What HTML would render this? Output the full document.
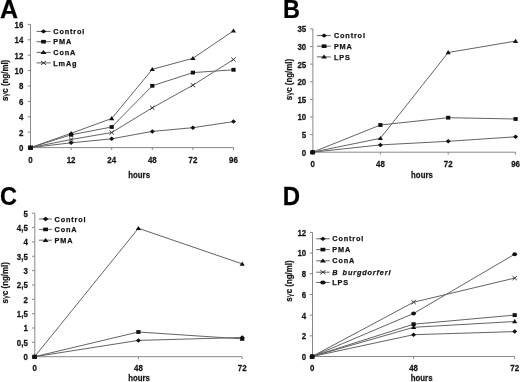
<!DOCTYPE html>
<html><head><meta charset="utf-8"><title>Figure</title>
<style>
html,body{margin:0;padding:0;background:#fff;width:520px;height:382px;overflow:hidden}
svg{display:block;font-family:"Liberation Sans",sans-serif;will-change:transform;opacity:0.999;filter:blur(0.35px)}
</style></head><body>
<svg width="520" height="382" viewBox="0 0 520 382" xml:space="preserve">
<rect width="520" height="382" fill="#fff"/>
<text transform="translate(0.00 17.90)" font-size="25" font-weight="bold" fill="#000" stroke="#000" stroke-width="0.25">A</text>
<line x1="30.5" y1="24.4" x2="30.5" y2="147.6" stroke="#888888" stroke-width="1"/>
<line x1="27.7" y1="147.60" x2="30.5" y2="147.60" stroke="#888888" stroke-width="1"/>
<text transform="translate(23.40 151.00) scale(0.92 1)" font-size="8.6" font-weight="bold" text-anchor="end" fill="#141414" stroke="#141414" stroke-width="0.25">0</text>
<line x1="27.7" y1="132.20" x2="30.5" y2="132.20" stroke="#888888" stroke-width="1"/>
<text transform="translate(23.40 135.60) scale(0.92 1)" font-size="8.6" font-weight="bold" text-anchor="end" fill="#141414" stroke="#141414" stroke-width="0.25">2</text>
<line x1="27.7" y1="116.80" x2="30.5" y2="116.80" stroke="#888888" stroke-width="1"/>
<text transform="translate(23.40 120.20) scale(0.92 1)" font-size="8.6" font-weight="bold" text-anchor="end" fill="#141414" stroke="#141414" stroke-width="0.25">4</text>
<line x1="27.7" y1="101.40" x2="30.5" y2="101.40" stroke="#888888" stroke-width="1"/>
<text transform="translate(23.40 104.80) scale(0.92 1)" font-size="8.6" font-weight="bold" text-anchor="end" fill="#141414" stroke="#141414" stroke-width="0.25">6</text>
<line x1="27.7" y1="86.00" x2="30.5" y2="86.00" stroke="#888888" stroke-width="1"/>
<text transform="translate(23.40 89.40) scale(0.92 1)" font-size="8.6" font-weight="bold" text-anchor="end" fill="#141414" stroke="#141414" stroke-width="0.25">8</text>
<line x1="27.7" y1="70.60" x2="30.5" y2="70.60" stroke="#888888" stroke-width="1"/>
<text transform="translate(23.40 74.00) scale(0.92 1)" font-size="8.6" font-weight="bold" text-anchor="end" fill="#141414" stroke="#141414" stroke-width="0.25">10</text>
<line x1="27.7" y1="55.20" x2="30.5" y2="55.20" stroke="#888888" stroke-width="1"/>
<text transform="translate(23.40 58.60) scale(0.92 1)" font-size="8.6" font-weight="bold" text-anchor="end" fill="#141414" stroke="#141414" stroke-width="0.25">12</text>
<line x1="27.7" y1="39.80" x2="30.5" y2="39.80" stroke="#888888" stroke-width="1"/>
<text transform="translate(23.40 43.20) scale(0.92 1)" font-size="8.6" font-weight="bold" text-anchor="end" fill="#141414" stroke="#141414" stroke-width="0.25">14</text>
<line x1="27.7" y1="24.40" x2="30.5" y2="24.40" stroke="#888888" stroke-width="1"/>
<text transform="translate(23.40 27.80) scale(0.92 1)" font-size="8.6" font-weight="bold" text-anchor="end" fill="#141414" stroke="#141414" stroke-width="0.25">16</text>
<line x1="30.5" y1="147.6" x2="233.5" y2="147.6" stroke="#888888" stroke-width="1"/>
<line x1="30.5" y1="147.6" x2="30.5" y2="150.0" stroke="#888888" stroke-width="1"/>
<text transform="translate(30.50 162.60) scale(0.92 1)" font-size="8.6" font-weight="bold" text-anchor="middle" fill="#141414" stroke="#141414" stroke-width="0.25">0</text>
<line x1="71.1" y1="147.6" x2="71.1" y2="150.0" stroke="#888888" stroke-width="1"/>
<text transform="translate(71.10 162.60) scale(0.92 1)" font-size="8.6" font-weight="bold" text-anchor="middle" fill="#141414" stroke="#141414" stroke-width="0.25">12</text>
<line x1="111.7" y1="147.6" x2="111.7" y2="150.0" stroke="#888888" stroke-width="1"/>
<text transform="translate(111.70 162.60) scale(0.92 1)" font-size="8.6" font-weight="bold" text-anchor="middle" fill="#141414" stroke="#141414" stroke-width="0.25">24</text>
<line x1="152.3" y1="147.6" x2="152.3" y2="150.0" stroke="#888888" stroke-width="1"/>
<text transform="translate(152.30 162.60) scale(0.92 1)" font-size="8.6" font-weight="bold" text-anchor="middle" fill="#141414" stroke="#141414" stroke-width="0.25">48</text>
<line x1="192.9" y1="147.6" x2="192.9" y2="150.0" stroke="#888888" stroke-width="1"/>
<text transform="translate(192.90 162.60) scale(0.92 1)" font-size="8.6" font-weight="bold" text-anchor="middle" fill="#141414" stroke="#141414" stroke-width="0.25">72</text>
<line x1="233.5" y1="147.6" x2="233.5" y2="150.0" stroke="#888888" stroke-width="1"/>
<text transform="translate(233.50 162.60) scale(0.92 1)" font-size="8.6" font-weight="bold" text-anchor="middle" fill="#141414" stroke="#141414" stroke-width="0.25">96</text>
<polyline points="30.50,147.60 71.10,142.80 111.70,138.80 152.30,131.40 192.90,127.70 233.50,121.60" fill="none" stroke="#646464" stroke-width="1"/>
<polyline points="30.50,147.60 71.10,134.80 111.70,127.00 152.30,85.80 192.90,72.60 233.50,69.80" fill="none" stroke="#646464" stroke-width="1"/>
<polyline points="30.50,147.60 71.10,133.30 111.70,118.50 152.30,69.30 192.90,58.30 233.50,30.80" fill="none" stroke="#646464" stroke-width="1"/>
<polyline points="30.50,147.60 71.10,139.50 111.70,132.50 152.30,107.80 192.90,85.20 233.50,59.50" fill="none" stroke="#646464" stroke-width="1"/>
<path d="M30.50 145.35L33.00 147.60L30.50 149.85L28.00 147.60Z" fill="#111"/>
<path d="M71.10 140.55L73.60 142.80L71.10 145.05L68.60 142.80Z" fill="#111"/>
<path d="M111.70 136.55L114.20 138.80L111.70 141.05L109.20 138.80Z" fill="#111"/>
<path d="M152.30 129.15L154.80 131.40L152.30 133.65L149.80 131.40Z" fill="#111"/>
<path d="M192.90 125.45L195.40 127.70L192.90 129.95L190.40 127.70Z" fill="#111"/>
<path d="M233.50 119.35L236.00 121.60L233.50 123.85L231.00 121.60Z" fill="#111"/>
<rect x="28.40" y="145.70" width="4.20" height="3.80" fill="#111"/>
<rect x="69.00" y="132.90" width="4.20" height="3.80" fill="#111"/>
<rect x="109.60" y="125.10" width="4.20" height="3.80" fill="#111"/>
<rect x="150.20" y="83.90" width="4.20" height="3.80" fill="#111"/>
<rect x="190.80" y="70.70" width="4.20" height="3.80" fill="#111"/>
<rect x="231.40" y="67.90" width="4.20" height="3.80" fill="#111"/>
<path d="M30.50 145.20L33.10 149.40L27.90 149.40Z" fill="#111"/>
<path d="M71.10 130.90L73.70 135.10L68.50 135.10Z" fill="#111"/>
<path d="M111.70 116.10L114.30 120.30L109.10 120.30Z" fill="#111"/>
<path d="M152.30 66.90L154.90 71.10L149.70 71.10Z" fill="#111"/>
<path d="M192.90 55.90L195.50 60.10L190.30 60.10Z" fill="#111"/>
<path d="M233.50 28.40L236.10 32.60L230.90 32.60Z" fill="#111"/>
<path d="M28.30 145.60L32.70 149.60M32.70 145.60L28.30 149.60" stroke="#2a2a2a" stroke-width="0.95" fill="none"/>
<path d="M68.90 137.50L73.30 141.50M73.30 137.50L68.90 141.50" stroke="#2a2a2a" stroke-width="0.95" fill="none"/>
<path d="M109.50 130.50L113.90 134.50M113.90 130.50L109.50 134.50" stroke="#2a2a2a" stroke-width="0.95" fill="none"/>
<path d="M150.10 105.80L154.50 109.80M154.50 105.80L150.10 109.80" stroke="#2a2a2a" stroke-width="0.95" fill="none"/>
<path d="M190.70 83.20L195.10 87.20M195.10 83.20L190.70 87.20" stroke="#2a2a2a" stroke-width="0.95" fill="none"/>
<path d="M231.30 57.50L235.70 61.50M235.70 57.50L231.30 61.50" stroke="#2a2a2a" stroke-width="0.95" fill="none"/>
<rect x="28.30" y="145.80" width="4.41" height="3.99" fill="#111"/>
<line x1="36.6" y1="31.4" x2="50.8" y2="31.4" stroke="#646464" stroke-width="1"/>
<path d="M43.50 29.26L46.38 31.40L43.50 33.54L40.62 31.40Z" fill="#111"/>
<text transform="translate(53.30 34.00)" font-size="7.3" font-weight="bold" letter-spacing="0.85" fill="#141414" stroke="#141414" stroke-width="0.25">Control</text>
<line x1="36.6" y1="41.7" x2="50.8" y2="41.7" stroke="#646464" stroke-width="1"/>
<rect x="41.09" y="39.90" width="4.83" height="3.61" fill="#111"/>
<text transform="translate(53.30 44.30)" font-size="7.3" font-weight="bold" letter-spacing="0.85" fill="#141414" stroke="#141414" stroke-width="0.25">PMA</text>
<line x1="36.6" y1="52.4" x2="50.8" y2="52.4" stroke="#646464" stroke-width="1"/>
<path d="M43.50 50.12L46.49 54.11L40.51 54.11Z" fill="#111"/>
<text transform="translate(53.30 55.00)" font-size="7.3" font-weight="bold" letter-spacing="0.85" fill="#141414" stroke="#141414" stroke-width="0.25">ConA</text>
<line x1="36.6" y1="62.9" x2="50.8" y2="62.9" stroke="#646464" stroke-width="1"/>
<path d="M40.97 61.00L46.03 64.80M46.03 61.00L40.97 64.80" stroke="#2a2a2a" stroke-width="0.95" fill="none"/>
<text transform="translate(53.30 65.50)" font-size="7.3" font-weight="bold" letter-spacing="0.85" fill="#141414" stroke="#141414" stroke-width="0.25">LmAg</text>
<text transform="translate(128.30 178.00) scale(0.84 1)" font-size="9.3" font-weight="bold" fill="#141414" stroke="#141414" stroke-width="0.25">hours</text>
<text transform="translate(7.90 80.40) rotate(-90) scale(0.88 1)" font-size="9" font-weight="bold" text-anchor="middle" fill="#141414" stroke="#141414" stroke-width="0.25">s<tspan font-weight="normal" stroke-width="0">&#947;</tspan>c (ng/ml)</text>
<text transform="translate(283.00 18.00) scale(0.94 1)" font-size="25" font-weight="bold" fill="#000" stroke="#000" stroke-width="0.25">B</text>
<line x1="312.9" y1="28.9" x2="312.9" y2="152.2" stroke="#888888" stroke-width="1"/>
<line x1="310.09999999999997" y1="152.20" x2="312.9" y2="152.20" stroke="#888888" stroke-width="1"/>
<text transform="translate(306.20 155.60) scale(0.92 1)" font-size="8.6" font-weight="bold" text-anchor="end" fill="#141414" stroke="#141414" stroke-width="0.25">0</text>
<line x1="310.09999999999997" y1="134.59" x2="312.9" y2="134.59" stroke="#888888" stroke-width="1"/>
<text transform="translate(306.20 137.99) scale(0.92 1)" font-size="8.6" font-weight="bold" text-anchor="end" fill="#141414" stroke="#141414" stroke-width="0.25">5</text>
<line x1="310.09999999999997" y1="116.97" x2="312.9" y2="116.97" stroke="#888888" stroke-width="1"/>
<text transform="translate(306.20 120.37) scale(0.92 1)" font-size="8.6" font-weight="bold" text-anchor="end" fill="#141414" stroke="#141414" stroke-width="0.25">10</text>
<line x1="310.09999999999997" y1="99.36" x2="312.9" y2="99.36" stroke="#888888" stroke-width="1"/>
<text transform="translate(306.20 102.76) scale(0.92 1)" font-size="8.6" font-weight="bold" text-anchor="end" fill="#141414" stroke="#141414" stroke-width="0.25">15</text>
<line x1="310.09999999999997" y1="81.74" x2="312.9" y2="81.74" stroke="#888888" stroke-width="1"/>
<text transform="translate(306.20 85.14) scale(0.92 1)" font-size="8.6" font-weight="bold" text-anchor="end" fill="#141414" stroke="#141414" stroke-width="0.25">20</text>
<line x1="310.09999999999997" y1="64.13" x2="312.9" y2="64.13" stroke="#888888" stroke-width="1"/>
<text transform="translate(306.20 67.53) scale(0.92 1)" font-size="8.6" font-weight="bold" text-anchor="end" fill="#141414" stroke="#141414" stroke-width="0.25">25</text>
<line x1="310.09999999999997" y1="46.51" x2="312.9" y2="46.51" stroke="#888888" stroke-width="1"/>
<text transform="translate(306.20 49.91) scale(0.92 1)" font-size="8.6" font-weight="bold" text-anchor="end" fill="#141414" stroke="#141414" stroke-width="0.25">30</text>
<line x1="310.09999999999997" y1="28.90" x2="312.9" y2="28.90" stroke="#888888" stroke-width="1"/>
<text transform="translate(306.20 32.30) scale(0.92 1)" font-size="8.6" font-weight="bold" text-anchor="end" fill="#141414" stroke="#141414" stroke-width="0.25">35</text>
<line x1="312.6" y1="152.2" x2="515.6" y2="152.2" stroke="#888888" stroke-width="1"/>
<line x1="312.6" y1="152.2" x2="312.6" y2="154.6" stroke="#888888" stroke-width="1"/>
<text transform="translate(312.60 167.00) scale(0.92 1)" font-size="8.6" font-weight="bold" text-anchor="middle" fill="#141414" stroke="#141414" stroke-width="0.25">0</text>
<line x1="380.4" y1="152.2" x2="380.4" y2="154.6" stroke="#888888" stroke-width="1"/>
<text transform="translate(380.40 167.00) scale(0.92 1)" font-size="8.6" font-weight="bold" text-anchor="middle" fill="#141414" stroke="#141414" stroke-width="0.25">48</text>
<line x1="448.2" y1="152.2" x2="448.2" y2="154.6" stroke="#888888" stroke-width="1"/>
<text transform="translate(448.20 167.00) scale(0.92 1)" font-size="8.6" font-weight="bold" text-anchor="middle" fill="#141414" stroke="#141414" stroke-width="0.25">72</text>
<line x1="515.6" y1="152.2" x2="515.6" y2="154.6" stroke="#888888" stroke-width="1"/>
<text transform="translate(515.60 167.00) scale(0.92 1)" font-size="8.6" font-weight="bold" text-anchor="middle" fill="#141414" stroke="#141414" stroke-width="0.25">96</text>
<polyline points="312.60,152.20 380.40,144.90 448.20,141.30 515.60,136.80" fill="none" stroke="#646464" stroke-width="1"/>
<polyline points="312.60,152.20 380.40,125.00 448.20,117.70 515.60,119.00" fill="none" stroke="#646464" stroke-width="1"/>
<polyline points="312.60,152.20 380.40,138.30 448.20,52.50 515.60,41.10" fill="none" stroke="#646464" stroke-width="1"/>
<path d="M312.60 149.95L315.10 152.20L312.60 154.45L310.10 152.20Z" fill="#111"/>
<path d="M380.40 142.65L382.90 144.90L380.40 147.15L377.90 144.90Z" fill="#111"/>
<path d="M448.20 139.05L450.70 141.30L448.20 143.55L445.70 141.30Z" fill="#111"/>
<path d="M515.60 134.55L518.10 136.80L515.60 139.05L513.10 136.80Z" fill="#111"/>
<rect x="310.50" y="150.30" width="4.20" height="3.80" fill="#111"/>
<rect x="378.30" y="123.10" width="4.20" height="3.80" fill="#111"/>
<rect x="446.10" y="115.80" width="4.20" height="3.80" fill="#111"/>
<rect x="513.50" y="117.10" width="4.20" height="3.80" fill="#111"/>
<path d="M312.60 149.80L315.20 154.00L310.00 154.00Z" fill="#111"/>
<path d="M380.40 135.90L383.00 140.10L377.80 140.10Z" fill="#111"/>
<path d="M448.20 50.10L450.80 54.30L445.60 54.30Z" fill="#111"/>
<path d="M515.60 38.70L518.20 42.90L513.00 42.90Z" fill="#111"/>
<rect x="310.40" y="150.40" width="4.41" height="3.99" fill="#111"/>
<line x1="316.9" y1="35.6" x2="330.8" y2="35.6" stroke="#646464" stroke-width="1"/>
<path d="M324.10 33.46L326.98 35.60L324.10 37.74L321.23 35.60Z" fill="#111"/>
<text transform="translate(333.90 38.20)" font-size="7.3" font-weight="bold" letter-spacing="0.85" fill="#141414" stroke="#141414" stroke-width="0.25">Control</text>
<line x1="316.9" y1="46.2" x2="330.8" y2="46.2" stroke="#646464" stroke-width="1"/>
<rect x="321.69" y="44.40" width="4.83" height="3.61" fill="#111"/>
<text transform="translate(333.90 48.80)" font-size="7.3" font-weight="bold" letter-spacing="0.85" fill="#141414" stroke="#141414" stroke-width="0.25">PMA</text>
<line x1="316.9" y1="56.9" x2="330.8" y2="56.9" stroke="#646464" stroke-width="1"/>
<path d="M324.10 54.62L327.09 58.61L321.11 58.61Z" fill="#111"/>
<text transform="translate(333.90 59.50)" font-size="7.3" font-weight="bold" letter-spacing="0.85" fill="#141414" stroke="#141414" stroke-width="0.25">LPS</text>
<text transform="translate(411.10 177.50) scale(0.84 1)" font-size="9.3" font-weight="bold" fill="#141414" stroke="#141414" stroke-width="0.25">hours</text>
<text transform="translate(291.80 79.50) rotate(-90) scale(0.88 1)" font-size="9" font-weight="bold" text-anchor="middle" fill="#141414" stroke="#141414" stroke-width="0.25">s<tspan font-weight="normal" stroke-width="0">&#947;</tspan>c (ng/ml)</text>
<text transform="translate(0.00 204.80) scale(0.94 1)" font-size="25" font-weight="bold" fill="#000" stroke="#000" stroke-width="0.25">C</text>
<line x1="34.8" y1="213.2" x2="34.8" y2="356.7" stroke="#888888" stroke-width="1"/>
<line x1="31.999999999999996" y1="356.70" x2="34.8" y2="356.70" stroke="#888888" stroke-width="1"/>
<text transform="translate(27.80 360.10) scale(0.92 1)" font-size="8.6" font-weight="bold" text-anchor="end" fill="#141414" stroke="#141414" stroke-width="0.25">0</text>
<line x1="31.999999999999996" y1="342.35" x2="34.8" y2="342.35" stroke="#888888" stroke-width="1"/>
<text transform="translate(27.80 345.75) scale(0.92 1)" font-size="8.6" font-weight="bold" text-anchor="end" fill="#141414" stroke="#141414" stroke-width="0.25">0,5</text>
<line x1="31.999999999999996" y1="328.00" x2="34.8" y2="328.00" stroke="#888888" stroke-width="1"/>
<text transform="translate(27.80 331.40) scale(0.92 1)" font-size="8.6" font-weight="bold" text-anchor="end" fill="#141414" stroke="#141414" stroke-width="0.25">1</text>
<line x1="31.999999999999996" y1="313.65" x2="34.8" y2="313.65" stroke="#888888" stroke-width="1"/>
<text transform="translate(27.80 317.05) scale(0.92 1)" font-size="8.6" font-weight="bold" text-anchor="end" fill="#141414" stroke="#141414" stroke-width="0.25">1,5</text>
<line x1="31.999999999999996" y1="299.30" x2="34.8" y2="299.30" stroke="#888888" stroke-width="1"/>
<text transform="translate(27.80 302.70) scale(0.92 1)" font-size="8.6" font-weight="bold" text-anchor="end" fill="#141414" stroke="#141414" stroke-width="0.25">2</text>
<line x1="31.999999999999996" y1="284.95" x2="34.8" y2="284.95" stroke="#888888" stroke-width="1"/>
<text transform="translate(27.80 288.35) scale(0.92 1)" font-size="8.6" font-weight="bold" text-anchor="end" fill="#141414" stroke="#141414" stroke-width="0.25">2,5</text>
<line x1="31.999999999999996" y1="270.60" x2="34.8" y2="270.60" stroke="#888888" stroke-width="1"/>
<text transform="translate(27.80 274.00) scale(0.92 1)" font-size="8.6" font-weight="bold" text-anchor="end" fill="#141414" stroke="#141414" stroke-width="0.25">3</text>
<line x1="31.999999999999996" y1="256.25" x2="34.8" y2="256.25" stroke="#888888" stroke-width="1"/>
<text transform="translate(27.80 259.65) scale(0.92 1)" font-size="8.6" font-weight="bold" text-anchor="end" fill="#141414" stroke="#141414" stroke-width="0.25">3,5</text>
<line x1="31.999999999999996" y1="241.90" x2="34.8" y2="241.90" stroke="#888888" stroke-width="1"/>
<text transform="translate(27.80 245.30) scale(0.92 1)" font-size="8.6" font-weight="bold" text-anchor="end" fill="#141414" stroke="#141414" stroke-width="0.25">4</text>
<line x1="31.999999999999996" y1="227.55" x2="34.8" y2="227.55" stroke="#888888" stroke-width="1"/>
<text transform="translate(27.80 230.95) scale(0.92 1)" font-size="8.6" font-weight="bold" text-anchor="end" fill="#141414" stroke="#141414" stroke-width="0.25">4,5</text>
<line x1="31.999999999999996" y1="213.20" x2="34.8" y2="213.20" stroke="#888888" stroke-width="1"/>
<text transform="translate(27.80 216.60) scale(0.92 1)" font-size="8.6" font-weight="bold" text-anchor="end" fill="#141414" stroke="#141414" stroke-width="0.25">5</text>
<line x1="34.6" y1="356.7" x2="242.2" y2="356.7" stroke="#888888" stroke-width="1"/>
<line x1="34.6" y1="356.7" x2="34.6" y2="359.09999999999997" stroke="#888888" stroke-width="1"/>
<text transform="translate(34.60 371.00) scale(0.92 1)" font-size="8.6" font-weight="bold" text-anchor="middle" fill="#141414" stroke="#141414" stroke-width="0.25">0</text>
<line x1="138.4" y1="356.7" x2="138.4" y2="359.09999999999997" stroke="#888888" stroke-width="1"/>
<text transform="translate(138.40 371.00) scale(0.92 1)" font-size="8.6" font-weight="bold" text-anchor="middle" fill="#141414" stroke="#141414" stroke-width="0.25">48</text>
<line x1="242.2" y1="356.7" x2="242.2" y2="359.09999999999997" stroke="#888888" stroke-width="1"/>
<text transform="translate(242.20 371.00) scale(0.92 1)" font-size="8.6" font-weight="bold" text-anchor="middle" fill="#141414" stroke="#141414" stroke-width="0.25">72</text>
<polyline points="34.60,356.70 138.40,340.40 242.20,337.50" fill="none" stroke="#646464" stroke-width="1"/>
<polyline points="34.60,356.70 138.40,332.00 242.20,338.90" fill="none" stroke="#646464" stroke-width="1"/>
<polyline points="34.60,356.70 138.40,228.30 242.20,263.90" fill="none" stroke="#646464" stroke-width="1"/>
<path d="M34.60 354.45L37.10 356.70L34.60 358.95L32.10 356.70Z" fill="#111"/>
<path d="M138.40 338.15L140.90 340.40L138.40 342.65L135.90 340.40Z" fill="#111"/>
<path d="M242.20 335.25L244.70 337.50L242.20 339.75L239.70 337.50Z" fill="#111"/>
<rect x="32.50" y="354.80" width="4.20" height="3.80" fill="#111"/>
<rect x="136.30" y="330.10" width="4.20" height="3.80" fill="#111"/>
<rect x="240.10" y="337.00" width="4.20" height="3.80" fill="#111"/>
<path d="M34.60 354.30L37.20 358.50L32.00 358.50Z" fill="#111"/>
<path d="M138.40 225.90L141.00 230.10L135.80 230.10Z" fill="#111"/>
<path d="M242.20 261.50L244.80 265.70L239.60 265.70Z" fill="#111"/>
<rect x="32.40" y="354.90" width="4.41" height="3.99" fill="#111"/>
<line x1="39" y1="219.0" x2="51.9" y2="219.0" stroke="#646464" stroke-width="1"/>
<path d="M45.60 216.86L48.48 219.00L45.60 221.14L42.73 219.00Z" fill="#111"/>
<text transform="translate(54.60 221.60)" font-size="7.3" font-weight="bold" letter-spacing="0.85" fill="#141414" stroke="#141414" stroke-width="0.25">Control</text>
<line x1="39" y1="229.4" x2="51.9" y2="229.4" stroke="#646464" stroke-width="1"/>
<rect x="43.19" y="227.59" width="4.83" height="3.61" fill="#111"/>
<text transform="translate(54.60 232.00)" font-size="7.3" font-weight="bold" letter-spacing="0.85" fill="#141414" stroke="#141414" stroke-width="0.25">ConA</text>
<line x1="39" y1="240.2" x2="51.9" y2="240.2" stroke="#646464" stroke-width="1"/>
<path d="M45.60 237.92L48.59 241.91L42.61 241.91Z" fill="#111"/>
<text transform="translate(54.60 242.80)" font-size="7.3" font-weight="bold" letter-spacing="0.85" fill="#141414" stroke="#141414" stroke-width="0.25">PMA</text>
<text transform="translate(128.20 381.00) scale(0.84 1)" font-size="9.3" font-weight="bold" fill="#141414" stroke="#141414" stroke-width="0.25">hours</text>
<text transform="translate(7.80 282.80) rotate(-90) scale(0.88 1)" font-size="9" font-weight="bold" text-anchor="middle" fill="#141414" stroke="#141414" stroke-width="0.25">s<tspan font-weight="normal" stroke-width="0">&#947;</tspan>c (ng/ml)</text>
<text transform="translate(282.80 205.40) scale(0.96 1)" font-size="25" font-weight="bold" fill="#000" stroke="#000" stroke-width="0.25">D</text>
<line x1="312.5" y1="232.4" x2="312.5" y2="356.5" stroke="#888888" stroke-width="1"/>
<line x1="309.7" y1="356.50" x2="312.5" y2="356.50" stroke="#888888" stroke-width="1"/>
<text transform="translate(306.20 359.90) scale(0.92 1)" font-size="8.6" font-weight="bold" text-anchor="end" fill="#141414" stroke="#141414" stroke-width="0.25">0</text>
<line x1="309.7" y1="335.82" x2="312.5" y2="335.82" stroke="#888888" stroke-width="1"/>
<text transform="translate(306.20 339.22) scale(0.92 1)" font-size="8.6" font-weight="bold" text-anchor="end" fill="#141414" stroke="#141414" stroke-width="0.25">2</text>
<line x1="309.7" y1="315.13" x2="312.5" y2="315.13" stroke="#888888" stroke-width="1"/>
<text transform="translate(306.20 318.53) scale(0.92 1)" font-size="8.6" font-weight="bold" text-anchor="end" fill="#141414" stroke="#141414" stroke-width="0.25">4</text>
<line x1="309.7" y1="294.45" x2="312.5" y2="294.45" stroke="#888888" stroke-width="1"/>
<text transform="translate(306.20 297.85) scale(0.92 1)" font-size="8.6" font-weight="bold" text-anchor="end" fill="#141414" stroke="#141414" stroke-width="0.25">6</text>
<line x1="309.7" y1="273.77" x2="312.5" y2="273.77" stroke="#888888" stroke-width="1"/>
<text transform="translate(306.20 277.17) scale(0.92 1)" font-size="8.6" font-weight="bold" text-anchor="end" fill="#141414" stroke="#141414" stroke-width="0.25">8</text>
<line x1="309.7" y1="253.08" x2="312.5" y2="253.08" stroke="#888888" stroke-width="1"/>
<text transform="translate(306.20 256.48) scale(0.92 1)" font-size="8.6" font-weight="bold" text-anchor="end" fill="#141414" stroke="#141414" stroke-width="0.25">10</text>
<line x1="309.7" y1="232.40" x2="312.5" y2="232.40" stroke="#888888" stroke-width="1"/>
<text transform="translate(306.20 235.80) scale(0.92 1)" font-size="8.6" font-weight="bold" text-anchor="end" fill="#141414" stroke="#141414" stroke-width="0.25">12</text>
<line x1="312.1" y1="356.5" x2="514.7" y2="356.5" stroke="#888888" stroke-width="1"/>
<line x1="312.1" y1="356.5" x2="312.1" y2="358.9" stroke="#888888" stroke-width="1"/>
<text transform="translate(312.10 371.00) scale(0.92 1)" font-size="8.6" font-weight="bold" text-anchor="middle" fill="#141414" stroke="#141414" stroke-width="0.25">0</text>
<line x1="413.6" y1="356.5" x2="413.6" y2="358.9" stroke="#888888" stroke-width="1"/>
<text transform="translate(413.60 371.00) scale(0.92 1)" font-size="8.6" font-weight="bold" text-anchor="middle" fill="#141414" stroke="#141414" stroke-width="0.25">48</text>
<line x1="514.7" y1="356.5" x2="514.7" y2="358.9" stroke="#888888" stroke-width="1"/>
<text transform="translate(514.70 371.00) scale(0.92 1)" font-size="8.6" font-weight="bold" text-anchor="middle" fill="#141414" stroke="#141414" stroke-width="0.25">72</text>
<polyline points="312.10,356.50 413.60,334.70 514.70,331.60" fill="none" stroke="#646464" stroke-width="1"/>
<polyline points="312.10,356.50 413.60,324.20 514.70,315.10" fill="none" stroke="#646464" stroke-width="1"/>
<polyline points="312.10,356.50 413.60,327.30 514.70,321.50" fill="none" stroke="#646464" stroke-width="1"/>
<polyline points="312.10,356.50 413.60,302.20 514.70,278.10" fill="none" stroke="#646464" stroke-width="1"/>
<polyline points="312.10,356.50 413.60,313.50 514.70,254.20" fill="none" stroke="#646464" stroke-width="1"/>
<path d="M312.10 354.25L314.60 356.50L312.10 358.75L309.60 356.50Z" fill="#111"/>
<path d="M413.60 332.45L416.10 334.70L413.60 336.95L411.10 334.70Z" fill="#111"/>
<path d="M514.70 329.35L517.20 331.60L514.70 333.85L512.20 331.60Z" fill="#111"/>
<rect x="310.00" y="354.60" width="4.20" height="3.80" fill="#111"/>
<rect x="411.50" y="322.30" width="4.20" height="3.80" fill="#111"/>
<rect x="512.60" y="313.20" width="4.20" height="3.80" fill="#111"/>
<path d="M312.10 354.10L314.70 358.30L309.50 358.30Z" fill="#111"/>
<path d="M413.60 324.90L416.20 329.10L411.00 329.10Z" fill="#111"/>
<path d="M514.70 319.10L517.30 323.30L512.10 323.30Z" fill="#111"/>
<path d="M309.90 354.50L314.30 358.50M314.30 354.50L309.90 358.50" stroke="#2a2a2a" stroke-width="0.95" fill="none"/>
<path d="M411.40 300.20L415.80 304.20M415.80 300.20L411.40 304.20" stroke="#2a2a2a" stroke-width="0.95" fill="none"/>
<path d="M512.50 276.10L516.90 280.10M516.90 276.10L512.50 280.10" stroke="#2a2a2a" stroke-width="0.95" fill="none"/>
<ellipse cx="312.10" cy="356.50" rx="2.35" ry="2.05" fill="#111"/>
<ellipse cx="413.60" cy="313.50" rx="2.35" ry="2.05" fill="#111"/>
<ellipse cx="514.70" cy="254.20" rx="2.35" ry="2.05" fill="#111"/>
<rect x="309.90" y="354.70" width="4.41" height="3.99" fill="#111"/>
<line x1="316.3" y1="238.8" x2="329.7" y2="238.8" stroke="#646464" stroke-width="1"/>
<path d="M322.90 236.66L325.77 238.80L322.90 240.94L320.02 238.80Z" fill="#111"/>
<text transform="translate(332.30 241.40)" font-size="7.3" font-weight="bold" letter-spacing="0.85" fill="#141414" stroke="#141414" stroke-width="0.25">Control</text>
<line x1="316.3" y1="249.6" x2="329.7" y2="249.6" stroke="#646464" stroke-width="1"/>
<rect x="320.48" y="247.79" width="4.83" height="3.61" fill="#111"/>
<text transform="translate(332.30 252.20)" font-size="7.3" font-weight="bold" letter-spacing="0.85" fill="#141414" stroke="#141414" stroke-width="0.25">PMA</text>
<line x1="316.3" y1="260.8" x2="329.7" y2="260.8" stroke="#646464" stroke-width="1"/>
<path d="M322.90 258.52L325.89 262.51L319.91 262.51Z" fill="#111"/>
<text transform="translate(332.30 263.40)" font-size="7.3" font-weight="bold" letter-spacing="0.85" fill="#141414" stroke="#141414" stroke-width="0.25">ConA</text>
<line x1="316.3" y1="272.2" x2="329.7" y2="272.2" stroke="#646464" stroke-width="1"/>
<path d="M320.37 270.30L325.43 274.10M325.43 270.30L320.37 274.10" stroke="#2a2a2a" stroke-width="0.95" fill="none"/>
<text transform="translate(332.30 274.80)" font-size="7.3" font-weight="bold" letter-spacing="0.85" font-style="italic" fill="#141414" stroke="#141414" stroke-width="0.25">B  <tspan dx="1.3">burgdorferi</tspan></text>
<line x1="316.3" y1="282.5" x2="329.7" y2="282.5" stroke="#646464" stroke-width="1"/>
<ellipse cx="322.90" cy="282.50" rx="2.70" ry="1.95" fill="#111"/>
<text transform="translate(332.30 285.10)" font-size="7.3" font-weight="bold" letter-spacing="0.85" fill="#141414" stroke="#141414" stroke-width="0.25">LPS</text>
<text transform="translate(410.80 380.60) scale(0.84 1)" font-size="9.3" font-weight="bold" fill="#141414" stroke="#141414" stroke-width="0.25">hours</text>
<text transform="translate(291.80 281.00) rotate(-90) scale(0.88 1)" font-size="9" font-weight="bold" text-anchor="middle" fill="#141414" stroke="#141414" stroke-width="0.25">s<tspan font-weight="normal" stroke-width="0">&#947;</tspan>c (ng/ml)</text>
</svg>
</body></html>
